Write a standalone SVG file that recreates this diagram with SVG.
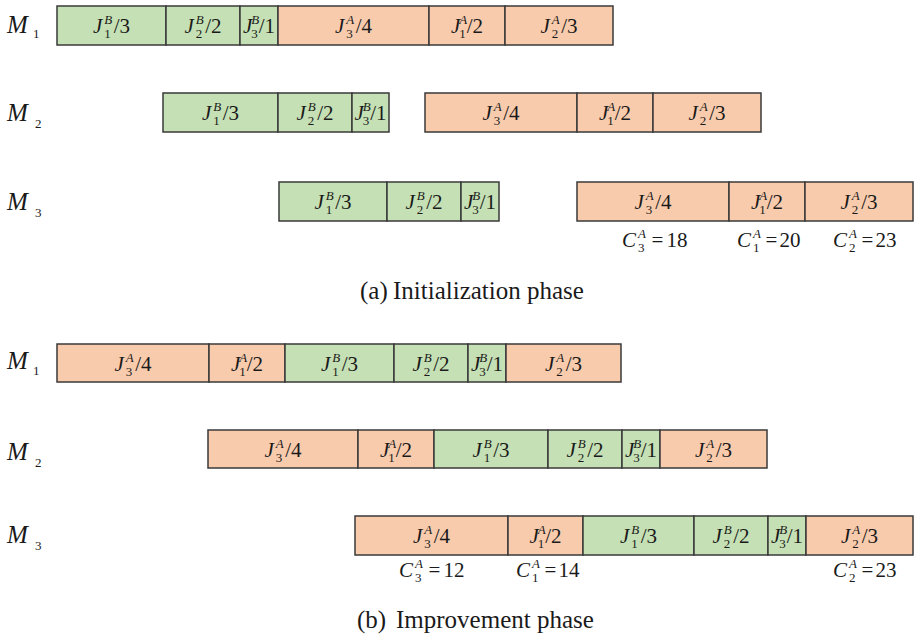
<svg xmlns="http://www.w3.org/2000/svg" width="914" height="635" viewBox="0 0 914 635">
<style>
.g{fill:#C5E0B4;stroke:#3a3a3a;stroke-width:1.5}
.o{fill:#F8CBAD;stroke:#3a3a3a;stroke-width:1.5}
text{font-family:'Liberation Serif','DejaVu Serif',serif;fill:#1a1a1a}
.t{font-size:21px;text-anchor:middle}
.c{font-size:21px}
.i{font-style:italic}
.s{font-size:13px}
.m{font-size:25px;font-style:italic}
.ms{font-size:13px}
.cap{font-size:25px}
</style>
<rect width="914" height="635" fill="#fff"/>

<g id="labels-init">
<text class="m" x="7" y="33">M</text><text class="ms" x="33" y="38">1</text>
<text class="m" x="7" y="121">M</text><text class="ms" x="35" y="128">2</text>
<text class="m" x="7" y="210">M</text><text class="ms" x="35" y="217">3</text>
</g>

<g id="init-M1">
<g id="a1-B1"><rect class="g" x="57" y="6" width="109" height="39"/><text class="t" x="111.5" y="33"><tspan class="i">J</tspan><tspan class="s i" dx="2" dy="-9">B</tspan><tspan class="s" dx="-7.9" dy="14">1</tspan><tspan dx="3" dy="-5">/3</tspan></text></g>
<g id="a1-B2"><rect class="g" x="166" y="6" width="74" height="39"/><text class="t" x="203" y="33"><tspan class="i">J</tspan><tspan class="s i" dx="2" dy="-9">B</tspan><tspan class="s" dx="-7.9" dy="14">2</tspan><tspan dx="3" dy="-5">/2</tspan></text></g>
<g id="a1-B3"><rect class="g" x="240" y="6" width="38" height="39"/><text class="t" x="259" y="33"><tspan class="i">J</tspan><tspan class="s i" dx="-1" dy="-9">B</tspan><tspan class="s" dx="-7.9" dy="14">3</tspan><tspan dx="1" dy="-5">/1</tspan></text></g>
<g id="a1-A3"><rect class="o" x="278" y="6" width="151" height="39"/><text class="t" x="353.5" y="33"><tspan class="i">J</tspan><tspan class="s i" dx="2" dy="-9">A</tspan><tspan class="s" dx="-7.9" dy="14">3</tspan><tspan dx="3" dy="-5">/4</tspan></text></g>
<g id="a1-A1"><rect class="o" x="429" y="6" width="76" height="39"/><text class="t" x="467" y="33"><tspan class="i">J</tspan><tspan class="s i" dx="-1" dy="-9">A</tspan><tspan class="s" dx="-7.9" dy="14">1</tspan><tspan dx="1" dy="-5">/2</tspan></text></g>
<g id="a1-A2"><rect class="o" x="505" y="6" width="108" height="39"/><text class="t" x="559" y="33"><tspan class="i">J</tspan><tspan class="s i" dx="2" dy="-9">A</tspan><tspan class="s" dx="-7.9" dy="14">2</tspan><tspan dx="3" dy="-5">/3</tspan></text></g>
</g>

<g id="init-M2">
<g id="a2-B1"><rect class="g" x="163" y="93" width="115" height="39"/><text class="t" x="220.5" y="120"><tspan class="i">J</tspan><tspan class="s i" dx="2" dy="-9">B</tspan><tspan class="s" dx="-7.9" dy="14">1</tspan><tspan dx="3" dy="-5">/3</tspan></text></g>
<g id="a2-B2"><rect class="g" x="278" y="93" width="74" height="39"/><text class="t" x="315" y="120"><tspan class="i">J</tspan><tspan class="s i" dx="2" dy="-9">B</tspan><tspan class="s" dx="-7.9" dy="14">2</tspan><tspan dx="3" dy="-5">/2</tspan></text></g>
<g id="a2-B3"><rect class="g" x="352" y="93" width="37" height="39"/><text class="t" x="370.5" y="120"><tspan class="i">J</tspan><tspan class="s i" dx="-1" dy="-9">B</tspan><tspan class="s" dx="-7.9" dy="14">3</tspan><tspan dx="1" dy="-5">/1</tspan></text></g>
<g id="a2-A3"><rect class="o" x="425" y="93" width="152" height="39"/><text class="t" x="501" y="120"><tspan class="i">J</tspan><tspan class="s i" dx="2" dy="-9">A</tspan><tspan class="s" dx="-7.9" dy="14">3</tspan><tspan dx="3" dy="-5">/4</tspan></text></g>
<g id="a2-A1"><rect class="o" x="577" y="93" width="76" height="39"/><text class="t" x="615" y="120"><tspan class="i">J</tspan><tspan class="s i" dx="-1" dy="-9">A</tspan><tspan class="s" dx="-7.9" dy="14">1</tspan><tspan dx="1" dy="-5">/2</tspan></text></g>
<g id="a2-A2"><rect class="o" x="653" y="93" width="108" height="39"/><text class="t" x="707" y="120"><tspan class="i">J</tspan><tspan class="s i" dx="2" dy="-9">A</tspan><tspan class="s" dx="-7.9" dy="14">2</tspan><tspan dx="3" dy="-5">/3</tspan></text></g>
</g>

<g id="init-M3">
<g id="a3-B1"><rect class="g" x="279" y="182" width="108" height="39"/><text class="t" x="333" y="209"><tspan class="i">J</tspan><tspan class="s i" dx="2" dy="-9">B</tspan><tspan class="s" dx="-7.9" dy="14">1</tspan><tspan dx="3" dy="-5">/3</tspan></text></g>
<g id="a3-B2"><rect class="g" x="387" y="182" width="74" height="39"/><text class="t" x="424" y="209"><tspan class="i">J</tspan><tspan class="s i" dx="2" dy="-9">B</tspan><tspan class="s" dx="-7.9" dy="14">2</tspan><tspan dx="3" dy="-5">/2</tspan></text></g>
<g id="a3-B3"><rect class="g" x="461" y="182" width="38" height="39"/><text class="t" x="480" y="209"><tspan class="i">J</tspan><tspan class="s i" dx="-1" dy="-9">B</tspan><tspan class="s" dx="-7.9" dy="14">3</tspan><tspan dx="1" dy="-5">/1</tspan></text></g>
<g id="a3-A3"><rect class="o" x="577" y="182" width="152" height="39"/><text class="t" x="653" y="209"><tspan class="i">J</tspan><tspan class="s i" dx="2" dy="-9">A</tspan><tspan class="s" dx="-7.9" dy="14">3</tspan><tspan dx="3" dy="-5">/4</tspan></text></g>
<g id="a3-A1"><rect class="o" x="729" y="182" width="76" height="39"/><text class="t" x="767" y="209"><tspan class="i">J</tspan><tspan class="s i" dx="-1" dy="-9">A</tspan><tspan class="s" dx="-7.9" dy="14">1</tspan><tspan dx="1" dy="-5">/2</tspan></text></g>
<g id="a3-A2"><rect class="o" x="805" y="182" width="108" height="39"/><text class="t" x="859" y="209"><tspan class="i">J</tspan><tspan class="s i" dx="2" dy="-9">A</tspan><tspan class="s" dx="-7.9" dy="14">2</tspan><tspan dx="3" dy="-5">/3</tspan></text></g>
</g>

<g id="init-completion">
<text class="c" x="622" y="247"><tspan class="i">C</tspan><tspan class="s i" dx="2" dy="-9">A</tspan><tspan class="s" dx="-7.9" dy="14">3</tspan><tspan dx="7" dy="-5">=</tspan><tspan dx="3">18</tspan></text>
<text class="c" x="737" y="247"><tspan class="i">C</tspan><tspan class="s i" dx="2" dy="-9">A</tspan><tspan class="s" dx="-7.9" dy="14">1</tspan><tspan dx="6" dy="-5">=</tspan><tspan dx="2">20</tspan></text>
<text class="c" x="833" y="247"><tspan class="i">C</tspan><tspan class="s i" dx="2" dy="-9">A</tspan><tspan class="s" dx="-7.9" dy="14">2</tspan><tspan dx="6" dy="-5">=</tspan><tspan dx="2">23</tspan></text>
</g>

<g id="caption-a"><text class="cap" x="360" y="299">(a)</text><text class="cap" x="393" y="299">Initialization phase</text></g>

<g id="labels-imp">
<text class="m" x="7" y="369">M</text><text class="ms" x="33" y="375">1</text>
<text class="m" x="7" y="460">M</text><text class="ms" x="35" y="467">2</text>
<text class="m" x="7" y="543">M</text><text class="ms" x="35" y="550">3</text>
</g>

<g id="imp-M1">
<g id="b1-A3"><rect class="o" x="57" y="344" width="152" height="38"/><text class="t" x="133" y="371"><tspan class="i">J</tspan><tspan class="s i" dx="2" dy="-9">A</tspan><tspan class="s" dx="-7.9" dy="14">3</tspan><tspan dx="3" dy="-5">/4</tspan></text></g>
<g id="b1-A1"><rect class="o" x="209" y="344" width="76" height="38"/><text class="t" x="247" y="371"><tspan class="i">J</tspan><tspan class="s i" dx="-1" dy="-9">A</tspan><tspan class="s" dx="-7.9" dy="14">1</tspan><tspan dx="1" dy="-5">/2</tspan></text></g>
<g id="b1-B1"><rect class="g" x="285" y="344" width="109" height="38"/><text class="t" x="339.5" y="371"><tspan class="i">J</tspan><tspan class="s i" dx="2" dy="-9">B</tspan><tspan class="s" dx="-7.9" dy="14">1</tspan><tspan dx="3" dy="-5">/3</tspan></text></g>
<g id="b1-B2"><rect class="g" x="394" y="344" width="74" height="38"/><text class="t" x="431" y="371"><tspan class="i">J</tspan><tspan class="s i" dx="2" dy="-9">B</tspan><tspan class="s" dx="-7.9" dy="14">2</tspan><tspan dx="3" dy="-5">/2</tspan></text></g>
<g id="b1-B3"><rect class="g" x="468" y="344" width="38" height="38"/><text class="t" x="487" y="371"><tspan class="i">J</tspan><tspan class="s i" dx="-1" dy="-9">B</tspan><tspan class="s" dx="-7.9" dy="14">3</tspan><tspan dx="1" dy="-5">/1</tspan></text></g>
<g id="b1-A2"><rect class="o" x="506" y="344" width="115" height="38"/><text class="t" x="563.5" y="371"><tspan class="i">J</tspan><tspan class="s i" dx="2" dy="-9">A</tspan><tspan class="s" dx="-7.9" dy="14">2</tspan><tspan dx="3" dy="-5">/3</tspan></text></g>
</g>

<g id="imp-M2">
<g id="b2-A3"><rect class="o" x="208" y="430" width="150" height="38"/><text class="t" x="283" y="457"><tspan class="i">J</tspan><tspan class="s i" dx="2" dy="-9">A</tspan><tspan class="s" dx="-7.9" dy="14">3</tspan><tspan dx="3" dy="-5">/4</tspan></text></g>
<g id="b2-A1"><rect class="o" x="358" y="430" width="76" height="38"/><text class="t" x="396" y="457"><tspan class="i">J</tspan><tspan class="s i" dx="-1" dy="-9">A</tspan><tspan class="s" dx="-7.9" dy="14">1</tspan><tspan dx="1" dy="-5">/2</tspan></text></g>
<g id="b2-B1"><rect class="g" x="434" y="430" width="114" height="38"/><text class="t" x="491" y="457"><tspan class="i">J</tspan><tspan class="s i" dx="2" dy="-9">B</tspan><tspan class="s" dx="-7.9" dy="14">1</tspan><tspan dx="3" dy="-5">/3</tspan></text></g>
<g id="b2-B2"><rect class="g" x="548" y="430" width="74" height="38"/><text class="t" x="585" y="457"><tspan class="i">J</tspan><tspan class="s i" dx="2" dy="-9">B</tspan><tspan class="s" dx="-7.9" dy="14">2</tspan><tspan dx="3" dy="-5">/2</tspan></text></g>
<g id="b2-B3"><rect class="g" x="622" y="430" width="38" height="38"/><text class="t" x="641" y="457"><tspan class="i">J</tspan><tspan class="s i" dx="-1" dy="-9">B</tspan><tspan class="s" dx="-7.9" dy="14">3</tspan><tspan dx="1" dy="-5">/1</tspan></text></g>
<g id="b2-A2"><rect class="o" x="660" y="430" width="107" height="38"/><text class="t" x="713.5" y="457"><tspan class="i">J</tspan><tspan class="s i" dx="2" dy="-9">A</tspan><tspan class="s" dx="-7.9" dy="14">2</tspan><tspan dx="3" dy="-5">/3</tspan></text></g>
</g>

<g id="imp-M3">
<g id="b3-A3"><rect class="o" x="355" y="516" width="153" height="39"/><text class="t" x="431.5" y="543"><tspan class="i">J</tspan><tspan class="s i" dx="2" dy="-9">A</tspan><tspan class="s" dx="-7.9" dy="14">3</tspan><tspan dx="3" dy="-5">/4</tspan></text></g>
<g id="b3-A1"><rect class="o" x="508" y="516" width="75" height="39"/><text class="t" x="545.5" y="543"><tspan class="i">J</tspan><tspan class="s i" dx="-1" dy="-9">A</tspan><tspan class="s" dx="-7.9" dy="14">1</tspan><tspan dx="1" dy="-5">/2</tspan></text></g>
<g id="b3-B1"><rect class="g" x="583" y="516" width="111" height="39"/><text class="t" x="638.5" y="543"><tspan class="i">J</tspan><tspan class="s i" dx="2" dy="-9">B</tspan><tspan class="s" dx="-7.9" dy="14">1</tspan><tspan dx="3" dy="-5">/3</tspan></text></g>
<g id="b3-B2"><rect class="g" x="694" y="516" width="74" height="39"/><text class="t" x="731" y="543"><tspan class="i">J</tspan><tspan class="s i" dx="2" dy="-9">B</tspan><tspan class="s" dx="-7.9" dy="14">2</tspan><tspan dx="3" dy="-5">/2</tspan></text></g>
<g id="b3-B3"><rect class="g" x="768" y="516" width="38" height="39"/><text class="t" x="787" y="543"><tspan class="i">J</tspan><tspan class="s i" dx="-1" dy="-9">B</tspan><tspan class="s" dx="-7.9" dy="14">3</tspan><tspan dx="1" dy="-5">/1</tspan></text></g>
<g id="b3-A2"><rect class="o" x="806" y="516" width="107" height="39"/><text class="t" x="859.5" y="543"><tspan class="i">J</tspan><tspan class="s i" dx="2" dy="-9">A</tspan><tspan class="s" dx="-7.9" dy="14">2</tspan><tspan dx="3" dy="-5">/3</tspan></text></g>
</g>

<g id="imp-completion">
<text class="c" x="399" y="577"><tspan class="i">C</tspan><tspan class="s i" dx="2" dy="-9">A</tspan><tspan class="s" dx="-7.9" dy="14">3</tspan><tspan dx="7" dy="-5">=</tspan><tspan dx="3">12</tspan></text>
<text class="c" x="516" y="577"><tspan class="i">C</tspan><tspan class="s i" dx="2" dy="-9">A</tspan><tspan class="s" dx="-7.9" dy="14">1</tspan><tspan dx="6" dy="-5">=</tspan><tspan dx="2">14</tspan></text>
<text class="c" x="833" y="577"><tspan class="i">C</tspan><tspan class="s i" dx="2" dy="-9">A</tspan><tspan class="s" dx="-7.9" dy="14">2</tspan><tspan dx="6" dy="-5">=</tspan><tspan dx="2">23</tspan></text>
</g>

<g id="caption-b"><text class="cap" x="357" y="628">(b)</text><text class="cap" x="396" y="628">Improvement phase</text></g>
</svg>
